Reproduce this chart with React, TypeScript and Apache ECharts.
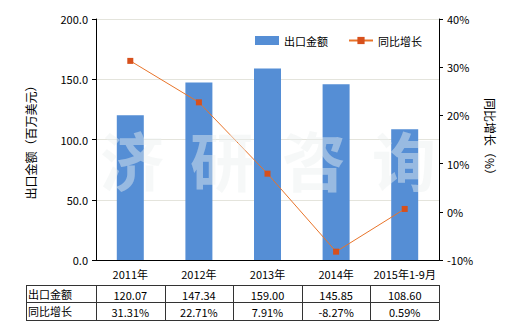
import React, { useEffect, useRef } from "react";
import * as echarts from "echarts";

const categories = ["2011年", "2012年", "2013年", "2014年", "2015年1-9月"];
const exportValues = [120.07, 147.34, 159.0, 145.85, 108.6];
const growthValues = [31.31, 22.71, 7.91, -8.27, 0.59];
const exportLabels = ["120.07", "147.34", "159.00", "145.85", "108.60"];
const growthLabels = ["31.31%", "22.71%", "7.91%", "-8.27%", "0.59%"];
const seriesNames = ["出口金额", "同比增长"];
const watermark = ["济", "研", "咨", "询"];

const FONT = "'Noto Sans CJK SC', 'DejaVu Sans', sans-serif";

export default function App() {
  const ref = useRef<HTMLDivElement>(null);
  useEffect(() => {
    if (!ref.current) return;
    const chart = echarts.init(ref.current, undefined, { renderer: "svg" });
    const gridL = 96, gridR = 439, top = 19, bottom = 260;
    const colW = (gridR - gridL) / categories.length;
    const tLeft = 26, r1 = 285, r2 = 302, r3 = 320;
    const graphics: any[] = [];
    // watermark
    const wmX = [100, 190, 282, 372];
    watermark.forEach((ch, i) => {
      graphics.push({
        type: "text",
        left: wmX[i],
        top: 126,
        z: 100,
        silent: true,
        style: { text: ch, fontSize: 64, fontWeight: "bold", fontFamily: FONT, fill: "rgba(235,240,240,0.45)" },
      });
    });
    // table lines
    const lineStyle = { stroke: "#333", lineWidth: 1 };
    [r1, r2, r3].forEach((y) =>
      graphics.push({ type: "line", shape: { x1: tLeft, y1: y + 0.5, x2: gridR, y2: y + 0.5 }, style: lineStyle })
    );
    const xs = [tLeft, gridL];
    for (let i = 1; i <= categories.length; i++) xs.push(gridL + colW * i);
    xs.forEach((x) =>
      graphics.push({ type: "line", shape: { x1: Math.round(x) + 0.5, y1: r1, x2: Math.round(x) + 0.5, y2: r3 }, style: lineStyle })
    );
    const rows = [exportLabels, growthLabels];
    const ys = [r1, r2];
    rows.forEach((row, ri) => {
      graphics.push({
        type: "text",
        x: tLeft + 2,
        y: ys[ri] + 8.5,
        style: { text: seriesNames[ri], fontSize: 11, fontFamily: FONT, fill: "#000", verticalAlign: "middle", align: "left" },
      });
      row.forEach((t, ci) => {
        graphics.push({
          type: "text",
          x: gridL + colW * (ci + 0.5),
          y: ys[ri] + 9.5,
          style: { text: t, fontSize: 11, fontFamily: FONT, fill: "#000", verticalAlign: "middle", align: "center" },
        });
      });
    });

    chart.setOption({
      animation: false,
      textStyle: { fontFamily: FONT },
      grid: { left: gridL, right: 520 - gridR, top, bottom: 330 - bottom, containLabel: false },
      legend: {
        top: 30,
        left: 250,
        itemGap: 20,
        itemWidth: 24,
        itemHeight: 9,
        textStyle: { fontSize: 11, color: "#000" },
        data: [
          { name: seriesNames[0], icon: "rect" },
          { name: seriesNames[1] },
        ],
      },
      xAxis: {
        type: "category",
        data: categories,
        axisLine: { lineStyle: { color: "#000" } },
        axisTick: { show: false },
        axisLabel: { color: "#000", fontSize: 11, margin: 8, interval: 0 },
      },
      yAxis: [
        {
          type: "value",
          min: 0,
          max: 200,
          interval: 50,
          name: "出口金额（百万美元）",
          nameLocation: "middle",
          nameGap: 60,
          nameRotate: 90,
          nameTextStyle: { fontSize: 12, color: "#000" },
          axisLine: { show: true, lineStyle: { color: "#000" } },
          axisTick: { show: true, length: 4, lineStyle: { color: "#000" } },
          axisLabel: { color: "#000", fontSize: 11, formatter: (v: number) => v.toFixed(1) },
          splitLine: { lineStyle: { color: "#e4e4dc" } },
        },
        {
          type: "value",
          min: -10,
          max: 40,
          interval: 10,
          name: "同比增长（%）",
          nameLocation: "middle",
          nameGap: 44,
          nameRotate: -90,
          nameTextStyle: { fontSize: 12, color: "#000" },
          axisLine: { show: true, lineStyle: { color: "#000" } },
          axisTick: { show: true, length: 4, lineStyle: { color: "#000" } },
          axisLabel: { color: "#000", fontSize: 11, formatter: (v: number) => v + "%" },
          splitLine: { show: false },
        },
      ],
      series: [
        {
          name: seriesNames[0],
          type: "bar",
          data: exportValues,
          barWidth: 27,
          itemStyle: { color: "#558ed5" },
        },
        {
          name: seriesNames[1],
          type: "line",
          yAxisIndex: 1,
          data: growthValues,
          symbol: "rect",
          symbolSize: 6,
          lineStyle: { color: "#e8742a", width: 1 },
          itemStyle: { color: "#d7501c" },
        },
      ],
      graphic: graphics,
    });
    return () => chart.dispose();
  }, []);
  return <div ref={ref} style={{ width: 520, height: 330, position: "absolute", left: 0, top: 0 }} />;
}
